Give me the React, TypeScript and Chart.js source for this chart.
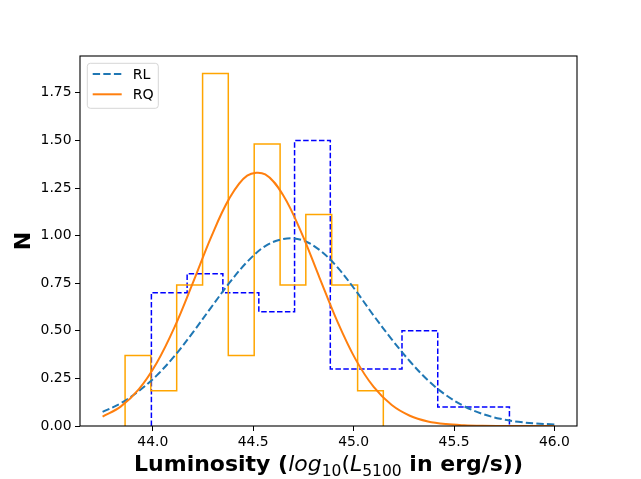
import React, { useEffect, useRef } from "react";
import { Chart, registerables } from "chart.js";

Chart.register(...registerables);

// ---- data ----
const rlEdges = [43.993, 44.171, 44.349, 44.528, 44.706, 44.884, 45.063, 45.241, 45.419, 45.597, 45.776];
const rlHeights = [0.70, 0.80, 0.70, 0.60, 1.50, 0.30, 0.30, 0.50, 0.10, 0.10];

const rqEdges = [43.862, 43.990, 44.119, 44.248, 44.376, 44.505, 44.634, 44.762, 44.891, 45.020, 45.148];
const rqHeights = [0.370, 0.185, 0.740, 1.851, 0.370, 1.481, 0.740, 1.111, 0.740, 0.185];

const curveX = [
  43.75, 43.84, 43.93, 44.02, 44.11, 44.2, 44.29, 44.38, 44.47, 44.56, 44.65, 44.74, 44.83,
  44.92, 45.01, 45.1, 45.19, 45.28, 45.37, 45.46, 45.55, 45.64, 45.73, 45.82, 45.91, 46.0,
];
const rlCurve = [
  0.074, 0.119, 0.183, 0.266, 0.370, 0.492, 0.622, 0.750, 0.862, 0.945, 0.982, 0.978, 0.925,
  0.833, 0.712, 0.580, 0.455, 0.340, 0.240, 0.162, 0.104, 0.064, 0.038, 0.022, 0.013, 0.008,
];
const rqCurve = [
  0.049, 0.102, 0.192, 0.332, 0.523, 0.753, 0.991, 1.193, 1.315, 1.322, 1.211, 1.016, 0.780,
  0.547, 0.350, 0.205, 0.110, 0.054, 0.024, 0.010, 0.004, 0.0013, 0.0004, 0.0001, 0.0, 0.0,
];

const xTicks = [44.0, 44.5, 45.0, 45.5, 46.0];
const yTicks = [0, 0.25, 0.5, 0.75, 1.0, 1.25, 1.5, 1.75];

const legendItems = [
  { label: "RL", color: "#1f77b4", dash: [7.4, 3.2] },
  { label: "RQ", color: "#ff7f0e", dash: [] as number[] },
];

const FONT = "'DejaVu Sans', sans-serif";

function stepPoints(edges: number[], heights: number[]) {
  const pts: { x: number; y: number }[] = [{ x: edges[0], y: 0 }];
  heights.forEach((h, i) => {
    pts.push({ x: edges[i], y: h });
    pts.push({ x: edges[i + 1], y: h });
  });
  pts.push({ x: edges[edges.length - 1], y: 0 });
  return pts;
}

const decorPlugin = {
  id: "decor",
  afterDraw(chart: any) {
    const ctx: CanvasRenderingContext2D = chart.ctx;
    const a = chart.chartArea;
    ctx.save();
    // frame (all four spines)
    ctx.strokeStyle = "#000";
    ctx.lineWidth = 1.1;
    ctx.setLineDash([]);
    ctx.strokeRect(a.left, a.top, a.right - a.left, a.bottom - a.top);

    // x axis label with mixed styles
    const segs = [
      { t: "Luminosity (", f: `bold 22px ${FONT}`, dy: 0 },
      { t: "log", f: `italic 22px ${FONT}`, dy: 0 },
      { t: "10", f: `15.5px ${FONT}`, dy: 4.5 },
      { t: "(", f: `22px ${FONT}`, dy: 0 },
      { t: "L", f: `italic 22px ${FONT}`, dy: 0 },
      { t: "5100", f: `15.5px ${FONT}`, dy: 4.5 },
      { t: " in erg/s))", f: `bold 22px ${FONT}`, dy: 0 },
    ];
    let total = 0;
    const widths = segs.map((s) => {
      ctx.font = s.f;
      const w = ctx.measureText(s.t).width;
      total += w;
      return w;
    });
    let x = (a.left + a.right) / 2 - total / 2;
    const baseY = 471;
    ctx.fillStyle = "#000";
    ctx.textBaseline = "alphabetic";
    ctx.textAlign = "left";
    segs.forEach((s, i) => {
      ctx.font = s.f;
      ctx.fillText(s.t, x, baseY + s.dy);
      x += widths[i];
    });

    // y axis label
    ctx.save();
    ctx.translate(30, (a.top + a.bottom) / 2);
    ctx.rotate(-Math.PI / 2);
    ctx.font = `bold 22px ${FONT}`;
    ctx.textAlign = "center";
    ctx.textBaseline = "alphabetic";
    ctx.fillText("N", 0, 0);
    ctx.restore();

    // legend
    const lx = a.left + 7.3;
    const ly = a.top + 7.3;
    const lw = 71;
    const lh = 45;
    const r = 3;
    ctx.beginPath();
    ctx.moveTo(lx + r, ly);
    ctx.lineTo(lx + lw - r, ly);
    ctx.arcTo(lx + lw, ly, lx + lw, ly + r, r);
    ctx.lineTo(lx + lw, ly + lh - r);
    ctx.arcTo(lx + lw, ly + lh, lx + lw - r, ly + lh, r);
    ctx.lineTo(lx + r, ly + lh);
    ctx.arcTo(lx, ly + lh, lx, ly + lh - r, r);
    ctx.lineTo(lx, ly + r);
    ctx.arcTo(lx, ly, lx + r, ly, r);
    ctx.closePath();
    ctx.fillStyle = "rgba(255,255,255,0.8)";
    ctx.fill();
    ctx.strokeStyle = "rgba(204,204,204,0.8)";
    ctx.lineWidth = 1;
    ctx.stroke();

    legendItems.forEach((it, i) => {
      const y = a.top + 18 + i * 20.3;
      ctx.beginPath();
      ctx.strokeStyle = it.color;
      ctx.lineWidth = 2;
      ctx.setLineDash(it.dash);
      ctx.moveTo(a.left + 12.7, y);
      ctx.lineTo(a.left + 41.7, y);
      ctx.stroke();
      ctx.setLineDash([]);
      ctx.font = `14.2px ${FONT}`;
      ctx.fillStyle = "#000";
      ctx.textAlign = "left";
      ctx.textBaseline = "middle";
      ctx.fillText(it.label, a.left + 52.7, y + 1);
    });
    ctx.restore();
  },
};

export default function App() {
  const ref = useRef<HTMLCanvasElement | null>(null);

  useEffect(() => {
    if (!ref.current) return;
    const chart = new Chart(ref.current, {
      type: "line",
      data: {
        datasets: [
          {
            label: "RQ",
            data: curveX.map((x, i) => ({ x, y: rqCurve[i] })),
            borderColor: "#ff7f0e",
            borderWidth: 2,
            pointRadius: 0,
            fill: false,
            tension: 0.35,
            order: 0,
          },
          {
            label: "RL",
            data: curveX.map((x, i) => ({ x, y: rlCurve[i] })),
            borderColor: "#1f77b4",
            borderWidth: 2,
            borderDash: [7.4, 3.2],
            pointRadius: 0,
            fill: false,
            tension: 0.35,
            order: 1,
          },
          {
            label: "RQ hist",
            data: stepPoints(rqEdges, rqHeights),
            borderColor: "#ffa500",
            borderWidth: 1.5,
            pointRadius: 0,
            fill: false,
            tension: 0,
            order: 2,
          },
          {
            label: "RL hist",
            data: stepPoints(rlEdges, rlHeights),
            borderColor: "#0000ff",
            borderWidth: 1.5,
            borderDash: [5.5, 2.4],
            pointRadius: 0,
            fill: false,
            tension: 0,
            order: 3,
          },
        ],
      } as any,
      options: {
        animation: false,
        responsive: false,
        devicePixelRatio: 1,
        layout: { padding: { left: 0, right: 64, top: 56, bottom: 0 } },
        plugins: { legend: { display: false }, tooltip: { enabled: false } },
        scales: {
          x: {
            type: "linear",
            min: 43.6375,
            max: 46.1125,
            border: { display: false },
            grid: {
              drawOnChartArea: false,
              drawTicks: true,
              tickLength: 5,
              tickColor: "#000",
              tickWidth: 1,
            },
            ticks: {
              color: "#000",
              font: { family: FONT, size: 13.9 },
              padding: 3,
              maxRotation: 0,
              autoSkip: false,
              callback: (v: any) => Number(v).toFixed(1),
            },
            afterBuildTicks: (s: any) => {
              s.ticks = xTicks.map((v) => ({ value: v }));
            },
            afterFit: (s: any) => {
              s.height = 53;
            },
          },
          y: {
            type: "linear",
            min: 0,
            max: 1.9435,
            border: { display: false },
            grid: {
              drawOnChartArea: false,
              drawTicks: true,
              tickLength: 5,
              tickColor: "#000",
              tickWidth: 1,
            },
            ticks: {
              color: "#000",
              font: { family: FONT, size: 13.9 },
              padding: 3.5,
              autoSkip: false,
              callback: (v: any) => Number(v).toFixed(2),
            },
            afterBuildTicks: (s: any) => {
              s.ticks = yTicks.map((v) => ({ value: v }));
            },
            afterFit: (s: any) => {
              s.width = 80;
            },
          },
        },
      } as any,
      plugins: [decorPlugin],
    });
    return () => chart.destroy();
  }, []);

  return (
    <div style={{ position: "fixed", left: 0, top: 0, width: 641, height: 479, background: "#fff" }}>
      <canvas ref={ref} width={641} height={479} />
    </div>
  );
}
